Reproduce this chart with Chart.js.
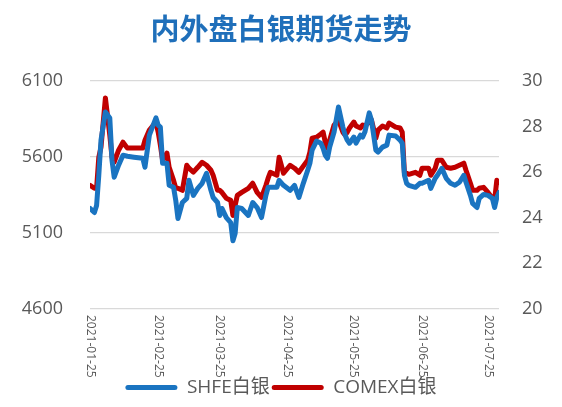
<!DOCTYPE html>
<html>
<head>
<meta charset="utf-8">
<script src="https://cdn.jsdelivr.net/npm/chart.js@4.4.1/dist/chart.umd.min.js"></script>
<style>
  html, body { margin: 0; padding: 0; background: #ffffff; }
  #wrap { width: 562px; height: 407px; }
</style>
</head>
<body>
<div id="wrap"><canvas id="c" width="562" height="407"></canvas></div>
<script>
// ---- data ----
const dates = [
  '2021-01-25','2021-01-27','2021-01-28','2021-01-29','2021-01-30','2021-02-01','2021-02-03','2021-02-04',
  '2021-02-05','2021-02-07','2021-02-09','2021-02-11','2021-02-14','2021-02-18','2021-02-19','2021-02-21',
  '2021-02-24','2021-02-25','2021-02-26','2021-02-27','2021-03-01','2021-03-02','2021-03-04','2021-03-05',
  '2021-03-06','2021-03-08','2021-03-10','2021-03-11','2021-03-13','2021-03-15','2021-03-17','2021-03-19',
  '2021-03-21','2021-03-22','2021-03-24','2021-03-25','2021-03-26','2021-03-28','2021-03-30','2021-03-31',
  '2021-04-01','2021-04-02','2021-04-04','2021-04-07','2021-04-09','2021-04-11','2021-04-13','2021-04-15',
  '2021-04-16','2021-04-17','2021-04-20','2021-04-21','2021-04-23','2021-04-26','2021-04-28','2021-04-30',
  '2021-05-02','2021-05-04','2021-05-05','2021-05-06','2021-05-08','2021-05-10','2021-05-11','2021-05-12',
  '2021-05-13','2021-05-14','2021-05-16','2021-05-18','2021-05-20','2021-05-21','2021-05-22','2021-05-23',
  '2021-05-25','2021-05-26','2021-05-28','2021-05-29','2021-05-30','2021-06-01','2021-06-02','2021-06-04',
  '2021-06-05','2021-06-07','2021-06-09','2021-06-10','2021-06-13','2021-06-15','2021-06-16','2021-06-17',
  '2021-06-18','2021-06-19','2021-06-22','2021-06-24','2021-06-25','2021-06-28','2021-06-29','2021-07-01',
  '2021-07-02','2021-07-04','2021-07-06','2021-07-08','2021-07-10','2021-07-12','2021-07-14','2021-07-15',
  '2021-07-17','2021-07-18','2021-07-20','2021-07-21','2021-07-23','2021-07-25','2021-07-27','2021-07-28',
  '2021-07-29','2021-07-30'
];
const shfe = [
  5261,5234,5281,5479,5710,5895,5856,5578,
  5466,5545,5611,5604,5598,5591,5532,5743,
  5856,5809,5796,5558,5558,5413,5400,5314,
  5195,5300,5327,5446,5347,5393,5426,5492,
  5380,5333,5300,5215,5261,5201,5168,5049,
  5096,5267,5261,5215,5300,5267,5201,5347,
  5400,5400,5400,5446,5413,5380,5413,5333,
  5426,5512,5558,5644,5704,5690,5657,5611,
  5591,5664,5763,5928,5796,5743,5710,5690,
  5730,5690,5743,5730,5763,5889,5842,5644,
  5631,5664,5677,5743,5737,5710,5690,5479,
  5426,5413,5400,5426,5426,5446,5393,5459,
  5479,5525,5459,5426,5413,5433,5479,5433,
  5347,5294,5267,5327,5353,5347,5327,5267,
  5333,5366
];
const comex = [
  25.42,25.29,25.29,26.65,27.09,29.25,27.62,26.65,
  26.43,26.96,27.31,27.05,27.05,27.05,27.40,27.84,
  28.19,27.75,27.18,26.52,26.83,26.21,25.64,25.29,
  25.29,25.20,26.30,26.17,26.00,26.21,26.43,26.30,
  26.08,25.86,25.20,25.20,25.11,24.85,24.76,24.10,
  24.54,24.98,25.11,25.29,25.51,25.11,24.89,25.42,
  25.73,25.99,25.86,26.65,25.95,26.30,26.17,25.99,
  26.26,26.52,26.87,27.49,27.53,27.67,27.75,27.31,
  27.05,27.40,28.06,28.28,27.75,27.62,27.75,27.93,
  28.19,28.02,27.93,28.06,28.02,28.19,28.28,27.49,
  27.84,28.02,27.93,28.15,27.97,27.93,27.75,25.95,
  25.95,25.90,25.99,25.86,26.17,26.17,25.86,26.17,
  26.52,26.52,26.21,26.17,26.21,26.30,26.39,26.08,
  25.51,25.20,25.20,25.29,25.33,25.11,24.85,24.76,
  25.64,25.55
];
const tickDates = ['2021-01-25','2021-02-25','2021-03-25','2021-04-25','2021-05-25','2021-06-25','2021-07-25'];
const seriesNames = ['SHFE白银', 'COMEX白银'];
const titleText = '内外盘白银期货走势';

// ---- helpers ----
const base = Date.UTC(2021, 0, 25);
function dayOf(s) {
  const p = s.split('-').map(Number);
  return (Date.UTC(p[0], p[1] - 1, p[2]) - base) / 86400000;
}
const shfePts = dates.map((d, i) => ({ x: dayOf(d), y: shfe[i] }));
const comexPts = dates.map((d, i) => ({ x: dayOf(d), y: comex[i] }));
const tickVals = tickDates.map(dayOf);
const lastDay = dayOf(dates[dates.length - 1]);

const FONT = "'Open Sans', 'Noto Sans CJK SC', sans-serif";
const GREY = '#595959';

const xLabelPlugin = {
  id: 'xLabels',
  afterDraw(chart) {
    const sx = chart.scales.x;
    const ctx = chart.ctx;
    ctx.save();
    ctx.font = '12px ' + FONT;
    ctx.fillStyle = GREY;
    ctx.textAlign = 'left';
    ctx.textBaseline = 'middle';
    tickDates.forEach((t, i) => {
      const px = sx.getPixelForValue(tickVals[i]);
      ctx.save();
      ctx.translate(px, sx.top + 6);
      ctx.rotate(Math.PI / 2);
      ctx.fillText(t, 0, 0);
      ctx.restore();
    });
    ctx.restore();
  }
};

new Chart(document.getElementById('c'), {
  type: 'line',
  data: {
    datasets: [
      {
        label: seriesNames[0], data: shfePts, yAxisID: 'y',
        borderColor: '#1a74c1', backgroundColor: '#1a74c1',
        borderWidth: 5, pointRadius: 0, tension: 0,
        borderJoinStyle: 'round', borderCapStyle: 'round'
      },
      {
        label: seriesNames[1], data: comexPts, yAxisID: 'y1',
        borderColor: '#c00000', backgroundColor: '#c00000',
        borderWidth: 5, pointRadius: 0, tension: 0,
        borderJoinStyle: 'round', borderCapStyle: 'round'
      }
    ]
  },
  options: {
    responsive: false,
    animation: false,
    layout: { padding: { left: 0, right: 0, top: 0, bottom: 0 } },
    plugins: {
      title: {
        display: true, text: titleText, color: '#1f6fba',
        font: { family: "'Noto Sans CJK SC', sans-serif", size: 29, weight: 'bold' },
        padding: { top: 12, bottom: 34 }
      },
      legend: {
        position: 'bottom',
        labels: {
          font: { family: FONT, size: 19 }, color: GREY,
          boxWidth: 52, boxHeight: 5, padding: 2, useBorderRadius: true, borderRadius: 2.5,
          generateLabels(chart) {
            return Chart.defaults.plugins.legend.labels.generateLabels(chart)
              .map(l => Object.assign(l, { lineWidth: 0, borderRadius: 2.5 }));
          }
        }
      },
      tooltip: { enabled: false }
    },
    scales: {
      x: {
        type: 'linear', min: 0, max: lastDay,
        afterBuildTicks(s) { s.ticks = tickVals.map(v => ({ value: v })); },
        afterFit(s) { s.height = 67; },
        ticks: { display: false },
        grid: { display: false },
        border: { display: false }
      },
      y: {
        position: 'left', min: 4600, max: 6100,
        afterFit(s) { s.width = 90; },
        ticks: { stepSize: 500, color: GREY, font: { family: FONT, size: 18 }, padding: 27,
                 callback: v => String(v) },
        grid: { color: '#d9d9d9', lineWidth: 1.3, drawTicks: false },
        border: { display: false }
      },
      y1: {
        position: 'right', min: 20, max: 30,
        afterFit(s) { s.width = 63; },
        ticks: { stepSize: 2, color: GREY, font: { family: FONT, size: 18 }, padding: 23,
                 callback: v => String(v) },
        grid: { display: false, drawTicks: false },
        border: { display: false }
      }
    }
  },
  plugins: [xLabelPlugin]
});
</script>
</body>
</html>
